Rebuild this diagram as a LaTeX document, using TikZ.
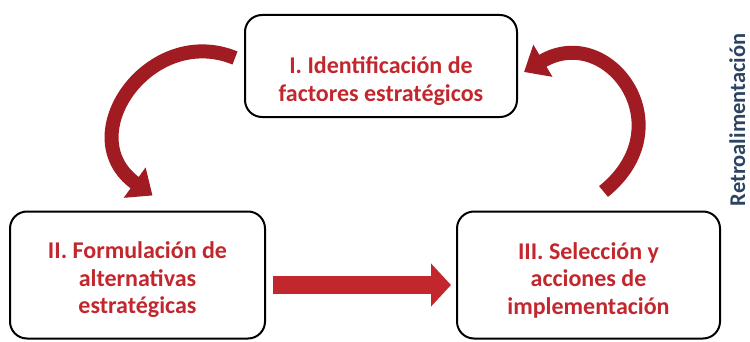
\documentclass[tikz,border=0pt]{standalone}
\usepackage{xcolor}
\usepackage{fontspec}
\setmainfont{Carlito}
\usepackage{tikz}
\usetikzlibrary{arrows.meta}
\definecolor{procred}{RGB}{193,39,45}
\definecolor{procdark}{RGB}{160,28,34}
\definecolor{feedblue}{RGB}{44,68,98}

\tikzset{
  stagebox/.style={draw=black, line width=2pt, rounded corners=17pt, inner sep=0pt},
  stagetext/.style={align=center, font=\fontsize{24}{27.5}\selectfont\bfseries,
    text=procred, inner sep=0pt},
  curvearrow/.style={draw=procdark, line width=14pt,
    -{Triangle[length=22pt, width=36pt]}},
  flatarrow/.style={draw=procred, line width=18pt,
    -{Triangle[length=20pt, width=42pt]}}
}

\begin{document}
\begin{tikzpicture}[x=1pt, y=1pt]
\useasboundingbox (0,0) rectangle (750,341);
% the three stages
\node[stagebox, minimum width=272pt, minimum height=102pt] (b1) at (381,275) {};
\node[stagebox, minimum width=255pt, minimum height=127pt] (b2) at (137.5,66) {};
\node[stagebox, minimum width=263pt, minimum height=127pt] (b3) at (588.5,66) {};
\node[stagetext] (l1) at ([yshift=-15pt]b1.center) {I. Identificación de\\factores estratégicos};
\node[stagetext] (l2) at ([yshift=-5pt]b2.center) {II. Formulación de\\alternativas\\estratégicas};
\node[stagetext] (l3) at ([yshift=-5pt]b3.center) {III. Selección y\\acciones de\\implementación};
% feedback label
\node[rotate=90, anchor=base, text=feedblue, font=\fontsize{22.5}{26}\selectfont\bfseries] (fb) at (745,221)
  {Retroalimentación};
% arrows between stages
\coordinate (t1) at ([shift={(-9,8)}]b1.west);
\coordinate (h1) at ([shift={(15,15)}]b2.north);
\draw[curvearrow] (t1) .. controls (150,318) and (70,205) .. (h1);
\draw[flatarrow, shorten <=7pt, shorten >=5pt] ([yshift=-10pt]b2.east) -- ([yshift=-10pt]b3.west);
\coordinate (t3) at ([shift={(15,19)}]b3.north);
\coordinate (h3) at ([shift={(6,-6)}]b1.east);
\draw[curvearrow] (t3) .. controls (685,215) and (608,319) .. (h3);
\end{tikzpicture}
\end{document}
